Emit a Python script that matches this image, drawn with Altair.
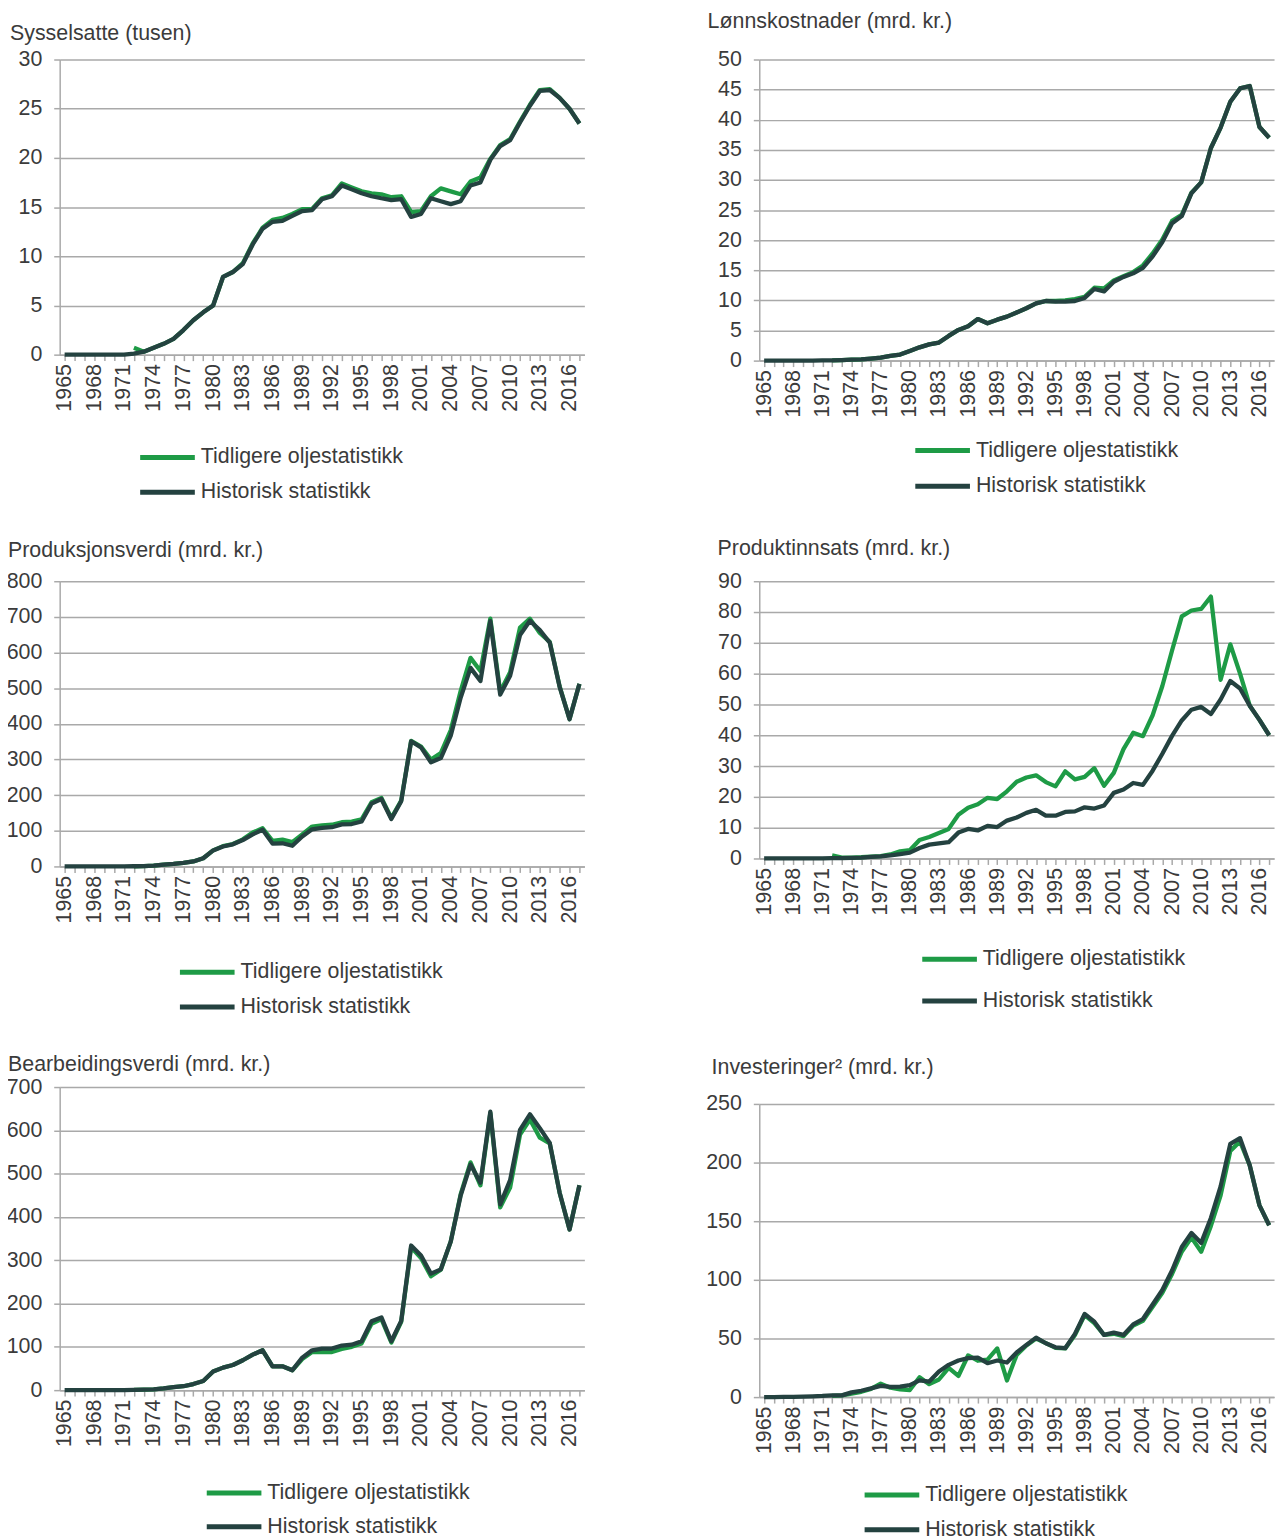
import altair as alt
import pandas as pd

years = list(range(1965, 2018))
series = ["Tidligere oljestatistikk", "Historisk statistikk"]
colors = ["#1e9b46", "#244240"]

N = None

syss_hist = [0, 0, 0, 0, 0, 0, 0, 0.1, 0.3, 0.7, 1.1, 1.6, 2.5, 3.5, 4.3, 5.0, 7.9, 8.4, 9.2, 11.2,
             12.8, 13.5, 13.6, 14.1, 14.6, 14.7, 15.8, 16.1, 17.2, 16.8, 16.4, 16.1, 15.9, 15.7, 15.8,
             14.0, 14.3, 15.9, 15.6, 15.3, 15.6, 17.2, 17.5, 19.8, 21.2, 21.8, 23.6, 25.3, 26.8, 26.9,
             26.1, 25.0, 23.5]
syss_tid = [N, N, N, N, N, N, N, 0.7, 0.3, 0.7, 1.1, 1.6, 2.5, 3.5, 4.3, 5.0, 7.9, 8.4, 9.3, 11.3,
            12.9, 13.7, 13.9, 14.3, 14.8, 14.8, 15.9, 16.2, 17.4, 17.0, 16.6, 16.4, 16.3, 16.0, 16.1,
            14.5, 14.6, 16.1, 16.9, 16.6, 16.3, 17.6, 18.0, 19.9, 21.3, 21.9, 23.7, 25.4, 26.9, 27.0,
            26.1, 25.0, 23.5]

lonn_hist = [0, 0, 0, 0, 0, 0, 0.05, 0.05, 0.1, 0.15, 0.2, 0.35, 0.5, 0.8, 1.0, 1.6, 2.2, 2.7, 3.0,
             4.1, 5.1, 5.7, 6.9, 6.2, 6.8, 7.3, 8.0, 8.7, 9.5, 9.9, 9.8, 9.8, 9.9, 10.4, 11.9, 11.5,
             13.1, 13.9, 14.5, 15.4, 17.3, 19.7, 22.8, 24.0, 27.8, 29.6, 35.3, 38.7, 43.0, 45.2, 45.6,
             38.8, 37.0]
lonn_tid = [N, N, N, N, N, N, N, 0.05, 0.1, 0.15, 0.2, 0.35, 0.5, 0.8, 1.0, 1.6, 2.2, 2.7, 3.0,
            4.1, 5.1, 5.7, 6.9, 6.2, 6.8, 7.3, 8.0, 8.7, 9.5, 9.9, 9.9, 10.0, 10.2, 10.6, 12.1, 12.0,
            13.3, 14.0, 14.7, 15.8, 17.8, 20.1, 23.2, 24.2, 27.9, 29.6, 35.3, 38.7, 43.0, 45.2, 45.6,
            38.8, 37.0]

prod_hist = [0, 0, 0, 0, 0, 0, 0, 0.5, 1, 2, 5, 7, 10, 14, 23, 45, 56, 62, 74, 90, 103, 64, 65, 58,
             84, 104, 108, 110, 118, 119, 126, 176, 189, 133, 183, 351, 334, 292, 304, 367, 473, 557,
             520, 688, 482, 535, 649, 689, 663, 628, 504, 413, 512]
prod_tid = [N, N, N, N, N, N, N, 0.5, 1, 2, 5, 7, 10, 14, 23, 45, 57, 63, 76, 95, 107, 72, 75, 68,
            90, 112, 115, 117, 124, 126, 132, 180, 192, 136, 185, 352, 336, 300, 318, 382, 492, 585,
            548, 695, 490, 545, 670, 695, 655, 630, 505, 413, 512]

inns_hist = [0, 0, 0, 0, 0, 0, 0, 0.1, 0.1, 0.2, 0.3, 0.5, 0.7, 1.0, 1.4, 1.9, 3.4, 4.5, 4.9, 5.3,
             8.4, 9.6, 9.1, 10.6, 10.2, 12.3, 13.3, 14.8, 15.8, 13.9, 13.9, 15.1, 15.3, 16.6, 16.2,
             17.2, 21.3, 22.4, 24.5, 23.9, 28.5, 34.0, 39.8, 44.8, 48.3, 49.2, 46.9, 51.6, 57.6, 55.2,
             49.6, 45.0, 40.0]
inns_tid = [N, N, N, N, N, N, N, 1.0, 0.3, 0.3, 0.4, 0.6, 0.8, 1.3, 2.3, 2.7, 6.0, 7.0, 8.3, 9.6,
            14.2, 16.5, 17.6, 19.7, 19.3, 21.8, 24.9, 26.3, 27.0, 24.8, 23.4, 28.3, 25.7, 26.5, 29.3,
            23.6, 27.8, 35.5, 40.8, 39.7, 46.5, 56.0, 67.5, 78.6, 80.5, 81.0, 85.0, 58.0, 69.5, 60.0,
            49.6, 45.0, 40.0]

bear_hist = [0, 0, 0, 0, 0, 0, 0, 0.5, 1, 2, 4, 7, 9, 14, 21, 43, 52, 58, 69, 82, 92, 55, 55, 46,
             75, 92, 96, 96, 103, 105, 113, 159, 168, 113, 160, 334, 311, 269, 279, 343, 449, 521,
             479, 643, 429, 485, 601, 637, 605, 571, 456, 371, 473]
bear_tid = [N, N, N, N, N, N, N, 0.5, 1, 2, 4, 7, 9, 14, 21, 43, 52, 58, 69, 82, 92, 55, 55, 46,
            72, 88, 88, 88, 95, 100, 108, 153, 164, 110, 158, 330, 305, 263, 278, 343, 452, 526,
            473, 640, 422, 468, 590, 625, 583, 570, 456, 371, 473]

inv_hist = [0, 0, 0.1, 0.2, 0.5, 0.7, 1.0, 1.5, 1.5, 4.0, 5.4, 7.4, 9.6, 8.8, 9.0, 10.2, 14.2, 13.3,
            21.8, 27.5, 31.2, 33.2, 33.7, 28.9, 31.2, 29.5, 38.0, 44.5, 50.7, 45.9, 42.5, 41.7, 53.9,
            70.9, 64.3, 53.0, 55.0, 53.0, 62.0, 66.6, 79.0, 91.3, 108.0, 128.0, 140.0, 131.5, 152.8,
            179.7, 216.0, 220.8, 197.6, 163.5, 146.5]
inv_tid = [N, N, N, N, N, N, N, 1.0, 1.5, 3.0, 4.5, 7.0, 11.5, 8.0, 6.5, 6.0, 17.0, 11.0, 15.0,
           25.0, 18.0, 35.5, 31.0, 32.0, 41.5, 14.2, 36.0, 44.0, 50.0, 46.0, 42.0, 41.5, 53.0, 70.0,
           63.0, 53.0, 54.0, 52.0, 61.0, 65.0, 77.0, 89.0, 105.0, 124.0, 136.0, 124.0, 146.0, 172.0,
           210.0, 218.0, 197.6, 163.5, 146.5]

FONT = "Liberation Sans"
FS = 21.5
TXT = "#3b3b3b"
GRID = "#a9a9a9"


def panel(title, hist, tid, ymax, ystep, width, height, tdx, toff, lx, ly, rowpad):
    df = pd.DataFrame({
        "År": years * 2,
        "Serie": [series[0]] * len(years) + [series[1]] * len(years),
        "Verdi": tid + hist,
    })
    xax = alt.Axis(values=years, title=None, grid=False, labelAngle=-90, tickSize=6,
                   labelPadding=3, labelOverlap=False, labelFlush=False,
                   labelExpr="(datum.value - 1965) % 3 == 0 ? '' + datum.value : ''")
    yax = alt.Axis(values=list(range(0, ymax + 1, ystep)), title=None, grid=True, tickSize=6,
                   labelPadding=12, labelFlush=False, labelOverlap=False)
    leg = alt.Legend(title=None, orient="none", legendX=lx, legendY=ly, direction="vertical",
                     symbolType="M-2.5,0H2.5", symbolSize=484, symbolStrokeWidth=5,
                     symbolFillColor="transparent",
                     labelFontSize=FS, labelFont=FONT, labelColor=TXT, rowPadding=rowpad,
                     labelOffset=20, labelLimit=400)
    base = alt.Chart(df).encode(
        x=alt.X("År:Q", scale=alt.Scale(domain=[1964.5, 2017.5], nice=False, zero=False), axis=xax),
        y=alt.Y("Verdi:Q", scale=alt.Scale(domain=[0, ymax], nice=False), axis=yax),
        color=alt.Color("Serie:N", scale=alt.Scale(domain=series, range=colors), legend=leg),
    )
    g = base.transform_filter(alt.datum.Serie == series[0]).mark_line(strokeWidth=4.3, strokeJoin="round")
    d = base.transform_filter(alt.datum.Serie == series[1]).mark_line(strokeWidth=4.3, strokeJoin="round")
    return alt.layer(g, d).properties(
        width=width, height=height,
        title=alt.TitleParams(text=title, anchor="start", frame="group", dx=tdx, offset=toff,
                              fontSize=FS, fontWeight="normal", font=FONT, color=TXT),
    )


def vc(a, b, sp):
    return alt.vconcat(a, b, spacing=sp, bounds="flush").resolve_scale(
        x="independent", y="independent", color="independent")


LW = 528
RW = 518

p1 = panel("Sysselsatte (tusen)", syss_hist, syss_tid, 30, 5, LW, 297, -50, 4, 95, 387, 11)
p2 = panel("Lønnskostnader (mrd. kr.)", lonn_hist, lonn_tid, 50, 5, RW, 303, -52, 16, 171, 380, 12)
p3 = panel("Produksjonsverdi (mrd. kr.)", prod_hist, prod_tid, 800, 100, LW, 287, -52, 9, 135, 380, 11)
p4 = panel("Produktinnsats (mrd. kr.)", inns_hist, inns_tid, 90, 10, RW, 279, -42, 11, 178, 367, 18)
p5 = panel("Bearbeidingsverdi (mrd. kr.)", bear_hist, bear_tid, 700, 100, LW, 305, -52, 1, 162, 395, 10)
p6 = panel("Investeringer² (mrd. kr.)", inv_hist, inv_tid, 250, 50, RW, 295, -48, 15, 120, 380, 11)

# nested flush groups: spacing is measured from the origin of the nested group
left = vc(vc(p1, p3, 228), p5, 1034)
right = vc(vc(p2, p4, 222), p6, 1051)

chart = alt.hconcat(left, right, spacing=704, bounds="flush").resolve_scale(
    x="independent", y="independent", color="independent"
).properties(
    padding={"left": -2, "top": -2, "right": 0, "bottom": 0}
).configure_view(stroke=None).configure_axis(
    labelFont=FONT, labelFontSize=FS, labelColor=TXT,
    domainColor=GRID, domainWidth=1.5, tickColor=GRID, tickWidth=1.5,
    gridColor=GRID, gridWidth=1.5,
)

chart.save("out.html", embed_options={"renderer": "svg", "actions": False})
